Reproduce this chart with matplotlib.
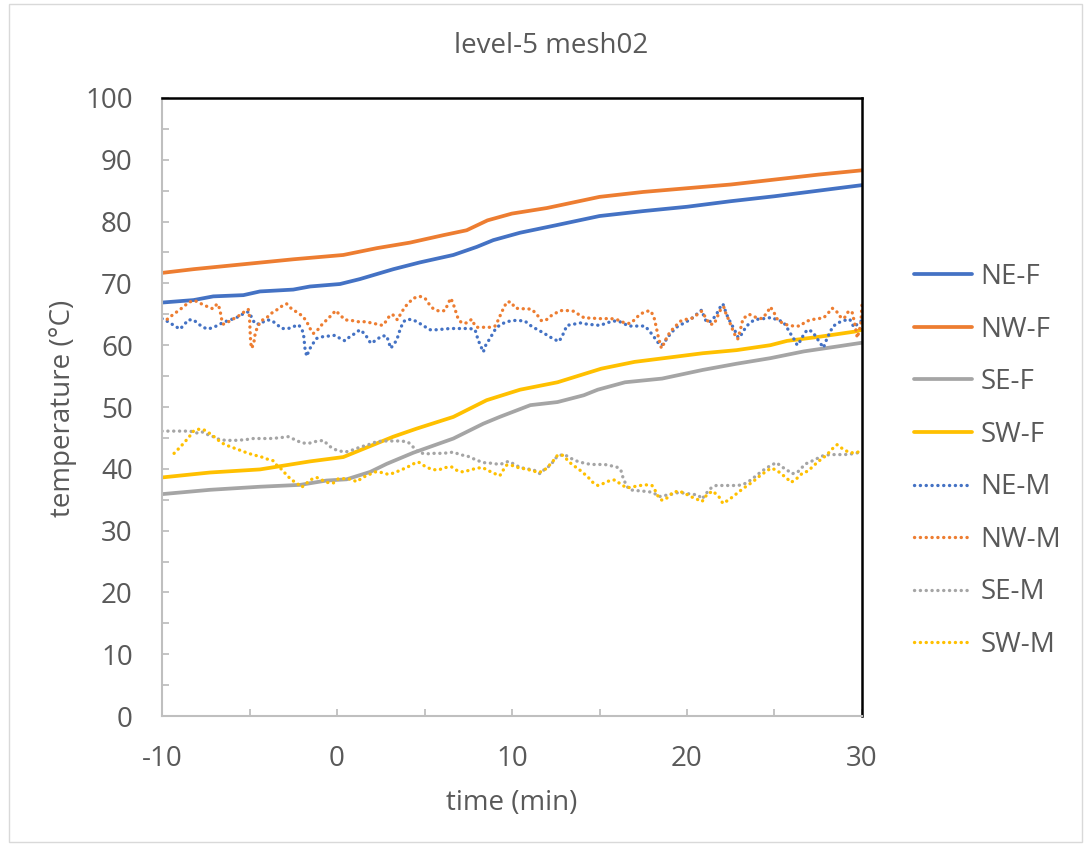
import matplotlib
matplotlib.use("Agg")
import matplotlib.pyplot as plt
from matplotlib.ticker import MultipleLocator
from matplotlib.patches import Rectangle

plt.rcParams['font.family'] = ['Open Sans', 'DejaVu Sans']
plt.rcParams['axes.unicode_minus'] = False

# ---------------- data ----------------
t_NE_F = [-10, -8.2, -7.07, -5.35, -4.4, -2.5, -1.54, 0.17, 1.31, 3.22, 4.74, 6.65, 7.98, 8.93,
          10.46, 12.5, 15, 17.5, 20, 22.5, 25, 27.5, 30]
NE_F = [66.9, 67.3, 67.9, 68.1, 68.7, 69.0, 69.5, 69.9, 70.7, 72.3, 73.4, 74.6, 75.9, 77.0,
        78.2, 79.4, 80.9, 81.7, 82.4, 83.3, 84.1, 85.0, 85.9]

t_NW_F = [-10, -8.2, -5.35, -2.5, 0.36, 2.27, 4.17, 6.07, 7.41, 8.6, 10, 12, 15, 17.5, 20,
          22.5, 25, 27.5, 30]
NW_F = [71.7, 72.3, 73.1, 73.9, 74.6, 75.7, 76.6, 77.8, 78.6, 80.2, 81.3, 82.2, 84.0, 84.8,
        85.4, 86.0, 86.8, 87.6, 88.3]

t_SE_F = [-10, -7.26, -4.4, -2.1, -0.6, 0.55, 1.9, 2.84, 4.36, 6.65, 8.36, 9.3, 11.05, 12.6,
          14.1, 14.9, 16.46, 18.58, 20.9, 22.83, 24.76, 26.68, 28.6, 30]
SE_F = [35.9, 36.6, 37.1, 37.4, 38.1, 38.3, 39.5, 40.8, 42.6, 44.9, 47.3, 48.4, 50.3, 50.8,
        51.9, 52.8, 54.0, 54.6, 56.0, 57.0, 57.9, 59.0, 59.8, 60.4]

t_SW_F = [-10, -7.26, -4.4, -1.54, 0.36, 1.31, 3.22, 4.55, 6.65, 8.55, 10.46, 12.6, 15.1, 17.0,
          18.96, 20.9, 22.83, 24.76, 25.72, 27.65, 29.58, 30]
SW_F = [38.6, 39.4, 39.9, 41.2, 41.9, 43.0, 45.2, 46.5, 48.4, 51.1, 52.8, 54.0, 56.2, 57.3,
        58.0, 58.7, 59.2, 60.0, 60.7, 61.4, 62.2, 62.5]

t_NE_M = [-10, -9.66, -9.26, -8.97, -8.74, -8.5, -8.2, -7.9, -7.65, -7.37, -6.97, -6.7, -6.4,
          -6.0, -5.64, -5.35, -5.07, -4.87, -4.7, -4.4, -4.2, -4.0, -3.73, -3.45, -3.16, -2.78,
          -2.5, -2.2, -2.0, -1.9, -1.83, -1.73, -1.58, -1.39, -1.16, -0.78, -0.4, -0.11, 0.17,
          0.46, 0.74, 1.03, 1.31, 1.6, 1.93, 2.23, 2.55, 2.84, 3.07, 3.2, 3.41, 3.6, 3.79, 4.02,
          4.36, 4.74, 5.03, 5.31, 5.7, 6.07, 6.46, 6.84, 7.22, 7.6, 7.89, 8.07, 8.27, 8.36, 8.5,
          8.74, 9.03, 9.31, 9.7, 10.07, 10.37, 10.74, 11.05, 11.34, 11.73, 12.02, 12.37, 12.69,
          12.89, 13.14, 13.52, 13.91, 14.3, 14.68, 15.05, 15.4, 15.78, 16.07, 16.34, 16.65, 17.0,
          17.33, 17.6, 17.85, 18.1, 18.29, 18.49, 18.67, 18.87, 19.16, 19.45, 19.84, 20.22,
          20.55, 20.84, 21.0, 21.13, 21.38, 21.67, 21.86, 22.05, 22.2, 22.35, 22.54, 22.73,
          22.93, 23.1, 23.4, 23.79, 24.18, 24.47, 24.82, 25.14, 25.5, 25.72, 25.95, 26.11, 26.3,
          26.5, 26.68, 26.88, 27.17, 27.36, 27.62, 27.8, 28.0, 28.33, 28.61, 28.97, 29.3, 29.54,
          29.8, 30]
NE_M = [64.3, 63.8, 63.1, 62.6, 63.3, 64.1, 64.1, 63.4, 62.9, 62.6, 63.0, 63.4, 63.8,
        64.2, 64.6, 65.1, 65.4, 64.5, 63.5, 63.4, 63.8, 64.1, 64.0, 63.4, 62.7, 62.7,
        63.0, 63.3, 62.6, 61.4, 59.5, 58.2, 59.3, 60.2, 61.1, 61.4, 61.5, 61.6, 61.1,
        60.7, 61.4, 61.9, 62.5, 61.8, 60.3, 60.8, 61.5, 61.5, 59.5, 60.0, 60.8, 62.5, 63.8, 64.2,
        64.1, 63.5, 63.0, 62.5, 62.5, 62.6, 62.7, 62.7, 62.7, 62.7, 62.5, 60.8, 59.5, 58.9, 60.0,
        61.1, 62.5, 63.3, 63.8, 64.0, 64.0, 63.9, 63.2, 62.7, 62.1, 61.6, 61.0, 60.6,
        61.6, 63.2, 63.4, 63.6, 63.4, 63.3, 63.2, 63.6, 63.9, 63.9, 63.6, 63.1, 63.1,
        63.1, 63.1, 62.3, 61.4, 60.6, 60.0, 60.2, 61.2, 62.2, 63.0, 63.6, 64.2,
        65.0, 65.7, 64.4, 63.7, 63.9, 64.9, 66.0, 66.7, 65.5, 64.4, 63.4, 62.4,
        61.2, 61.7, 63.1, 64.0, 64.3, 64.3, 64.5, 64.1, 63.8, 62.8, 61.7, 61.0, 60.0,
        60.8, 61.8, 62.5, 62.2, 61.4, 60.3, 59.6, 61.1, 63.0, 63.6, 64.0, 64.2, 62.9,
        63.6, 64.0]

t_NW_M = [-9.7, -9.35, -9.0, -8.74, -8.44, -8.11, -7.83, -7.45, -7.1, -6.84, -6.7, -6.6, -6.5,
          -6.2, -5.96, -5.64, -5.35, -5.07, -5.0, -4.97, -4.93, -4.87, -4.75, -4.7, -4.55, -4.3,
          -4.0, -3.73, -3.45, -3.16, -2.88, -2.6, -2.27, -1.96, -1.73, -1.54, -1.35, -1.1, -0.87,
          -0.59, -0.3, -0.08, 0.17, 0.46, 0.84, 1.22, 1.6, 1.98, 2.3, 2.61, 2.84, 3.03, 3.2, 3.45,
          3.7, 3.98, 4.36, 4.74, 5.03, 5.22, 5.5, 5.84, 6.17, 6.36, 6.5, 6.63, 6.8, 6.93, 7.13,
          7.41, 7.7, 7.8, 7.97, 8.36, 8.74, 9.03, 9.22, 9.4, 9.7, 9.95, 10.18, 10.5, 10.86,
          11.14, 11.44, 11.67, 11.92, 12.2, 12.5, 12.79, 13.18, 13.52, 13.85, 14.14, 14.53,
          14.91, 15.3, 15.68, 16.03, 16.36, 16.74, 17.0, 17.27, 17.58, 17.9, 18.1, 18.23, 18.34,
          18.43, 18.54, 18.67, 18.87, 19.05, 19.31, 19.64, 19.97, 20.32, 20.7, 20.84, 21.1, 21.3,
          21.55, 21.75, 21.96, 22.1, 22.2, 22.4, 22.58, 22.78, 22.9, 23.05, 23.2, 23.55, 23.94,
          24.27, 24.57, 24.76, 24.95, 25.18, 25.5, 25.82, 26.11, 26.46, 26.77, 27.07, 27.46,
          27.8, 28.07, 28.29, 28.52, 28.71, 28.97, 29.23, 29.43, 29.58, 29.73, 29.93, 30.0]
NW_M = [64.2, 65.0, 65.7, 66.3, 67.0, 67.2, 66.8, 66.3, 65.9, 66.7, 65.9, 64.3, 63.4,
        63.8, 64.2, 64.7, 65.3, 65.8, 64.6, 62.5, 60.3, 59.5, 60.4, 61.5, 63.0, 64.0,
        64.5, 65.2, 65.7, 66.3, 66.7, 65.9, 65.3, 64.7, 63.8, 62.7, 61.9, 62.5, 63.3,
        64.1, 64.9, 65.6, 64.9, 64.1, 64.0, 63.8, 63.8, 63.6, 63.4, 63.2, 64.0, 64.9, 64.9, 64.1,
        65.4, 66.5, 67.6, 67.9, 67.6, 66.8, 65.9, 65.5, 65.6, 66.8, 67.6, 66.8, 65.3, 64.2, 63.6,
        63.6, 64.2, 63.6, 62.9, 62.9, 62.9, 63.1, 64.1, 65.3, 67.0, 67.0, 66.0, 65.9, 65.9,
        65.8, 64.9, 64.0, 64.0, 64.7, 65.2, 65.6, 65.6, 65.5, 64.9, 64.4, 64.4,
        64.3, 64.3, 64.3, 64.1, 63.7, 63.5, 64.1, 64.9, 65.4, 65.6, 64.7, 63.1, 61.6,
        60.6, 59.5, 60.2, 61.4, 62.2, 63.0, 63.9, 64.2, 64.4, 65.2, 65.5, 64.3, 63.4,
        63.4, 64.7, 66.0, 66.2, 65.3, 64.0, 62.7, 61.4, 61.0, 62.5, 64.3, 65.0, 64.5,
        64.3, 65.2, 66.2, 65.4, 64.1, 63.5, 63.2, 63.1, 63.1, 63.8, 64.1, 64.3,
        64.4, 65.2, 66.0, 65.6, 64.7, 64.3, 65.5, 65.4, 63.6, 61.2, 63.3, 66.7]

t_SE_M = [-10, -9.54, -8.97, -8.4, -8.02, -7.73, -7.45, -7.07, -6.69, -6.3, -5.83, -5.26, -4.78,
          -4.3, -3.83, -3.35, -2.78, -2.4, -2.02, -1.64, -1.26, -0.78, -0.59, -0.4, -0.02, 0.46,
          0.84, 1.31, 1.79, 2.27, 2.74, 3.22, 3.7, 4.07, 4.36, 4.65, 5.03, 5.5, 6.07, 6.65, 7.03,
          7.5, 7.98, 8.36, 8.83, 9.31, 9.79, 10.09, 10.47, 10.86, 11.25, 11.6, 11.82, 12.2,
          12.55, 12.78, 13.0, 13.36, 13.75, 14.14, 14.53, 14.91, 15.3, 15.64, 15.98, 16.22,
          16.36, 16.56, 16.74, 17.03, 17.42, 17.81, 18.1, 18.39, 18.77, 19.16, 19.55, 19.93,
          20.32, 20.66, 20.86, 21.09, 21.38, 21.67, 22.05, 22.44, 22.83, 23.17, 23.5, 23.83,
          24.18, 24.47, 24.76, 25.11, 25.43, 25.72, 26.0, 26.3, 26.53, 26.78, 27.1, 27.46,
          27.84, 28.23, 28.6, 29.0, 29.39, 29.77, 30.0]
SE_M = [46.1, 46.1, 46.1, 46.1, 45.8, 46.0, 45.6, 45.2, 44.7, 44.6, 44.6, 44.7, 44.9,
        44.9, 44.9, 45.0, 45.2, 44.7, 44.2, 44.1, 44.4, 44.6, 44.1, 43.6, 43.0, 42.7,
        43.0, 43.5, 43.9, 44.4, 44.5, 44.5, 44.5, 44.3, 43.5, 42.7, 42.4, 42.5, 42.5, 42.7, 42.3,
        42.0, 41.4, 41.0, 40.9, 40.7, 41.2, 40.8, 40.2, 40.0, 39.8, 39.2, 39.8, 40.6,
        41.9, 42.2, 42.3, 41.7, 41.2, 40.9, 40.7, 40.7, 40.7, 40.5, 40.3, 39.8,
        38.4, 37.2, 36.6, 36.5, 36.4, 36.3, 36.1, 35.5, 35.7, 35.9, 36.2, 36.0,
        35.9, 35.7, 35.1, 36.0, 36.9, 37.3, 37.3, 37.3, 37.3, 37.4, 37.9, 38.6,
        39.4, 40.0, 40.5, 41.0, 40.3, 39.8, 39.2, 39.4, 40.1, 40.8, 41.2, 41.7,
        42.2, 42.3, 42.3, 42.3, 42.4, 42.6, 42.6]

t_SW_M = [-9.31, -9.0, -8.74, -8.44, -8.2, -7.93, -7.6, -7.26, -6.98, -6.6, -6.21, -5.83, -5.44,
          -5.07, -4.69, -4.3, -4.02, -3.64, -3.45, -3.16, -2.88, -2.6, -2.3, -2.02, -1.73, -1.45,
          -1.16, -0.87, -0.59, -0.21, 0.08, 0.46, 0.84, 1.12, 1.47, 1.79, 2.17, 2.55, 2.93, 3.22,
          3.56, 3.98, 4.36, 4.65, 5.03, 5.41, 5.79, 6.17, 6.55, 6.93, 7.22, 7.6, 7.98, 8.32, 8.65,
          9.03, 9.31, 9.5, 9.7, 10.09, 10.43, 10.76, 11.14, 11.53, 11.82, 12.11, 12.36, 12.6,
          12.88, 13.18, 13.46, 13.75, 14.04, 14.33, 14.62, 14.91, 15.2, 15.59, 15.88, 16.17,
          16.56, 16.94, 17.33, 17.66, 18.0, 18.2, 18.39, 18.58, 18.87, 19.2, 19.55, 19.89, 20.22,
          20.55, 20.86, 21.13, 21.47, 21.82, 22.05, 22.34, 22.63, 22.93, 23.25, 23.56, 23.89,
          24.18, 24.53, 24.8, 25.11, 25.38, 25.69, 25.95, 26.26, 26.6, 26.88, 27.17, 27.46,
          27.75, 28.0, 28.33, 28.58, 28.91, 29.3, 29.68, 30.0]
SW_M = [42.5, 43.4, 44.2, 45.2, 46.1, 46.4, 46.3, 45.7, 45.1, 44.2, 43.7, 43.3, 42.9,
        42.5, 42.2, 41.9, 41.6, 41.3, 40.6, 39.9, 39.0, 38.2, 37.7, 37.0, 37.7, 38.3,
        38.6, 38.2, 37.8, 37.7, 38.4, 38.4, 38.3, 37.9, 38.6, 39.0, 39.5, 39.4, 39.1, 39.3,
        39.7, 40.2, 40.8, 41.1, 40.4, 39.9, 39.8, 40.2, 40.3, 39.6, 39.5, 39.8, 40.1, 40.2, 39.7,
        39.2, 38.9, 39.8, 40.6, 40.5, 40.1, 40.0, 39.7, 39.4, 39.7, 40.5, 41.3, 42.2,
        42.2, 41.4, 40.6, 40.1, 39.4, 38.7, 37.8, 37.3, 37.6, 38.1, 38.2, 37.6,
        36.9, 37.1, 37.3, 37.4, 37.3, 36.4, 35.3, 34.9, 35.3, 36.2, 36.4, 36.0, 35.5,
        35.1, 34.7, 35.8, 36.4, 35.5, 34.4, 34.9, 35.5, 36.2, 36.9, 37.5, 38.2,
        38.9, 39.6, 40.1, 39.8, 39.2, 38.5, 37.8, 38.4, 39.3, 39.6, 40.3, 41.1,
        41.7, 42.3, 43.3, 43.9, 43.2, 42.6, 42.6, 43.0]

labels = ["NE-F", "NW-F", "SE-F", "SW-F", "NE-M", "NW-M", "SE-M", "SW-M"]
title = "level-5 mesh02"
xlabel = "time (min)"
ylabel = "temperature (°C)"

# ---------------- style ----------------
c_blue, c_orange, c_gray, c_yellow = "#4472C4", "#ED7D31", "#A5A5A5", "#FFC000"
txt = "#595959"
FS = 20
W, H = 1085, 846

fig = plt.figure(figsize=(W / 100, H / 100), dpi=100)
ax = fig.add_axes([162 / W, 1 - 716 / H, 700 / W, 618 / H])

# light chart-area border
fig.patches.append(Rectangle((9 / W, 4 / H), (1082 - 9) / W, (842 - 4) / H,
                             transform=fig.transFigure, fill=False,
                             edgecolor='#D9D9D9', lw=1.0))

series = [
    (t_NE_F, NE_F, c_blue, '-'), (t_NW_F, NW_F, c_orange, '-'),
    (t_SE_F, SE_F, c_gray, '-'), (t_SW_F, SW_F, c_yellow, '-'),
    (t_NE_M, NE_M, c_blue, ':'), (t_NW_M, NW_M, c_orange, ':'),
    (t_SE_M, SE_M, c_gray, ':'), (t_SW_M, SW_M, c_yellow, ':'),
]
for (tx, ty, col, ls), lab in zip(series, labels):
    if ls == '-':
        ax.plot(tx, ty, color=col, lw=2.7, label=lab, solid_capstyle='round',
                solid_joinstyle='round')
    else:
        ax.plot(tx, ty, color=col, lw=2.4, linestyle=(0, (0.05, 1.7)),
                dash_capstyle='round', label=lab)

ax.set_xlim(-10, 30)
ax.set_ylim(0, 100)
ax.xaxis.set_major_locator(MultipleLocator(10))
ax.xaxis.set_minor_locator(MultipleLocator(5))
ax.yaxis.set_major_locator(MultipleLocator(10))
ax.yaxis.set_minor_locator(MultipleLocator(5))

ax.tick_params(axis='both', which='both', direction='in', color='#BFBFBF', width=1.3,
               length=5, labelcolor=txt, labelsize=FS)
ax.tick_params(axis='x', which='both', pad=21)
ax.tick_params(axis='y', which='both', pad=21)

for s in ['left', 'bottom']:
    ax.spines[s].set_color('#BFBFBF')
    ax.spines[s].set_linewidth(1.5)
for s in ['top', 'right']:
    ax.spines[s].set_color('black')
    ax.spines[s].set_linewidth(1.8)

ax.set_xlabel(xlabel, fontsize=FS, color=txt)
ax.xaxis.set_label_coords(0.5, -0.118)
ax.set_ylabel(ylabel, fontsize=FS, color=txt)
ax.yaxis.set_label_coords(-0.121, 0.498)

fig.text(551 / W, 1 - 46 / H, title, fontsize=FS, color=txt, ha='center', va='center')

fig.legend(loc='center left', bbox_to_anchor=(914 / W, 1 - 461 / H), frameon=False,
           fontsize=FS, labelcolor=txt, handlelength=2.1, handletextpad=0.3,
           labelspacing=0.885, borderpad=0, borderaxespad=0)

fig.savefig("out.png", dpi=100)
